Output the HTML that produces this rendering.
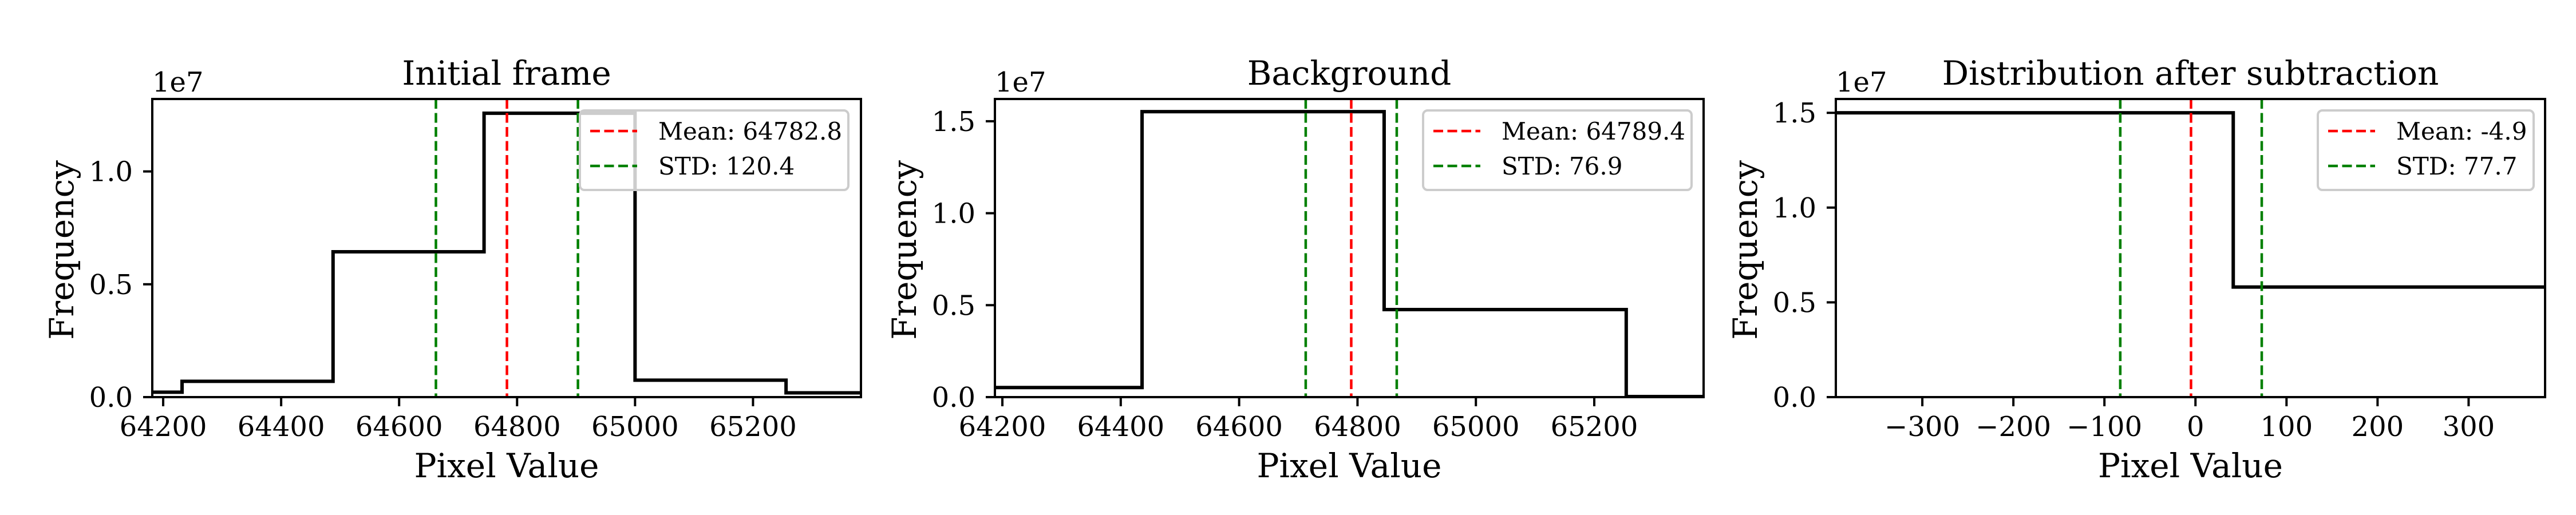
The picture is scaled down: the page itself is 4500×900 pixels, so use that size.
<!DOCTYPE html>
<html><head><meta charset="utf-8"><style>
html,body{margin:0;padding:0;background:#fff;}
svg{display:block;font-family:"DejaVu Serif","Liberation Serif",serif;}
</style></head><body>
<svg id="chart" width="4500" height="900" viewBox="0 0 4500 900" xmlns="http://www.w3.org/2000/svg"></svg>
<script>
// Panel 1: Initial frame
const p1Edges = [63976, 64232, 64488, 64744, 65000, 65256, 65512];
const p1Counts = [0.022, 0.07, 0.644, 1.258, 0.075, 0.019];
const p1Mean = 64782.8;
const p1Std = 120.4;
const p1XTicks = [64200, 64400, 64600, 64800, 65000, 65200];
const p1YTicks = [0.0, 0.5, 1.0];
// Panel 2: Background
const p2Edges = [64027, 64436, 64845, 65254, 65663];
const p2Counts = [0.052, 1.552, 0.476, 0.003];
const p2Mean = 64789.4;
const p2Std = 76.9;
const p2XTicks = [64200, 64400, 64600, 64800, 65000, 65200];
const p2YTicks = [0.0, 0.5, 1.0, 1.5];
// Panel 3: Distribution after subtraction
const p3Edges = [-700, 41.5, 780];
const p3Counts = [1.5, 0.581];
const p3Mean = -4.9;
const p3Std = 77.7;
const p3XTicks = [-300, -200, -100, 0, 100, 200, 300];
const p3YTicks = [0.0, 0.5, 1.0, 1.5];

const NS = "http://www.w3.org/2000/svg";
const svg = document.getElementById("chart");
function mk(tag, attrs, parent) {
  const e = document.createElementNS(NS, tag);
  for (const k in attrs) e.setAttribute(k, attrs[k]);
  (parent || svg).appendChild(e);
  return e;
}
function fmtY(v){ return v.toFixed(1); }
function fmtX(v){ return v < 0 ? "\u2212" + Math.abs(v) : String(v); }

function panel(cfg) {
  const g = mk("g", {});
  
  
  const L = cfg.left, R = cfg.right, T = 173, B = 694;
  const xs = v => L + (v - cfg.xmin) / (cfg.xmax - cfg.xmin) * (R - L);
  const ys = v => B - (v - 0) / (cfg.ymax - 0) * (B - T);
  const cid = "clip-" + cfg.name;
  const defs = mk("defs", {}, g);
  const cp = mk("clipPath", {id: cid}, defs);
  mk("rect", {x: L, y: T, width: R - L, height: B - T}, cp);
  let d = "";
  for (let i = 0; i < cfg.counts.length; i++) {
    const x0 = xs(cfg.edges[i]), x1 = xs(cfg.edges[i + 1]), y = ys(cfg.counts[i]);
    d += (i === 0 ? "M" + x0 + "," + ys(0) + " L" + x0 + "," + y : " L" + x0 + "," + y) + " L" + x1 + "," + y;
  }
  d += " L" + xs(cfg.edges[cfg.edges.length - 1]) + "," + ys(0);
  const step = mk("path", {d: d, fill: "none", stroke: "#000", "stroke-width": 6, "clip-path": "url(#" + cid + ")"}, g);
  
  
  const vl = [[cfg.mean, "red", "mean-line"], [cfg.mean - cfg.std, "green", "std-lower-line"], [cfg.mean + cfg.std, "green", "std-upper-line"]];
  vl.forEach(v => {
    const ln = mk("line", {x1: xs(v[0]), x2: xs(v[0]), y1: T, y2: B, stroke: v[1] === "red" ? "#ff0000" : "#008000", "stroke-width": 4.5, "stroke-dasharray": "17,7.5"}, g);
    
    
  });
  const fr = mk("rect", {x: L, y: T, width: R - L, height: B - T, fill: "none", stroke: "#000", "stroke-width": 4}, g);
  
  
  cfg.xticks.forEach(t => {
    const x = xs(t);
    mk("line", {x1: x, x2: x, y1: B, y2: B + 16, stroke: "#000", "stroke-width": 4}, g);
    const tx = mk("text", {x: x, y: 762, "font-size": 48, "text-anchor": "middle"}, g);
    tx.textContent = fmtX(t);
    
    
  });
  cfg.yticks.forEach(t => {
    const y = ys(t);
    mk("line", {x1: L - 16, x2: L, y1: y, y2: y, stroke: "#000", "stroke-width": 4}, g);
    const tx = mk("text", {x: L - 34, y: y + 17, "font-size": 48, "text-anchor": "end"}, g);
    tx.textContent = fmtY(t);
    
    
  });
  const off = mk("text", {x: L, y: 160, "font-size": 48}, g);
  off.textContent = "1e7";
  
  
  const ti = mk("text", {x: (L + R) / 2, y: 148, "font-size": 58, "text-anchor": "middle"}, g);
  ti.textContent = cfg.title;
  
  
  const xl = mk("text", {x: (L + R) / 2, y: 834, "font-size": 58, "text-anchor": "middle"}, g);
  xl.textContent = "Pixel Value";
  
  
  const yl = mk("text", {x: 0, y: 0, "font-size": 58, "text-anchor": "middle", transform: "translate(" + (L - 138) + "," + 437 + ") rotate(-90)"}, g);
  yl.textContent = "Frequency";
  
  
  const lg = mk("g", {}, g);
  
  
  mk("rect", {x: cfg.legX, y: 193, width: cfg.legW, height: 139, rx: 8, fill: "#fff", "fill-opacity": 0.8, stroke: "#cccccc", "stroke-width": 4}, lg);
  const rows = [["Mean: " + cfg.mean.toFixed(1), "#ff0000", 229], ["STD: " + cfg.std.toFixed(1), "#008000", 290]];
  rows.forEach(r => {
    const sw = mk("line", {x1: cfg.legX + 18, x2: cfg.legX + 100, y1: r[2], y2: r[2], stroke: r[1], "stroke-width": 4.5, "stroke-dasharray": "17,7.5"}, lg);
    
    
    const t = mk("text", {x: cfg.legX + 137, y: r[2] + 15, "font-size": 42}, lg);
    t.textContent = r[0];
    
    
  });
}

panel({name: "initial-frame-panel", title: "Initial frame", left: 266, right: 1504, xmin: 64181.5, xmax: 65383, ymax: 1.321,
  edges: p1Edges, counts: p1Counts, mean: p1Mean, std: p1Std, xticks: p1XTicks, yticks: p1YTicks, legX: 1013, legW: 469});
panel({name: "background-panel", title: "Background", left: 1738, right: 2976, xmin: 64187.4, xmax: 65384.7, ymax: 1.621,
  edges: p2Edges, counts: p2Counts, mean: p2Mean, std: p2Std, xticks: p2XTicks, yticks: p2YTicks, legX: 2486, legW: 469});
panel({name: "subtraction-panel", title: "Distribution after subtraction", left: 3207, right: 4446, xmin: -395, xmax: 384, ymax: 1.573,
  edges: p3Edges, counts: p3Counts, mean: p3Mean, std: p3Std, xticks: p3XTicks, yticks: p3YTicks, legX: 4049, legW: 377});
</script>
</body></html>
